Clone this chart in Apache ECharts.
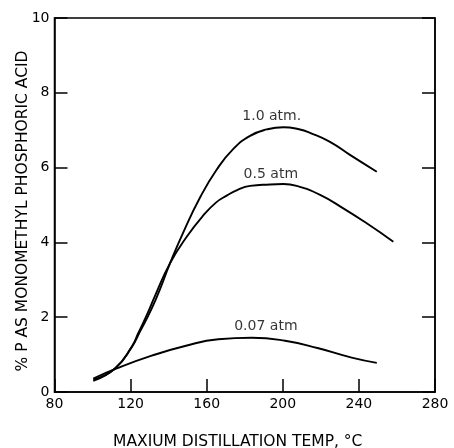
<!DOCTYPE html>
<html><head><meta charset="utf-8">
<script src="https://cdn.jsdelivr.net/npm/echarts@6/dist/echarts.min.js"></script>
<style>html,body{margin:0;padding:0;background:#fff}#c{width:454px;height:448px}</style>
</head><body><div id="c"></div>
<script>
const xTicks = [80, 120, 160, 200, 240, 280];
const yTicks = [0, 2, 4, 6, 8, 10];
const atm10 = [[100.4,0.30],[111.8,0.63],[120.6,1.20],[125,1.62],[131,2.22],[136,2.82],[140.7,3.44],[147.7,4.27],[156.5,5.20],[165.3,5.95],[174,6.50],[182.8,6.85],[191.5,7.02],[200.3,7.08],[209,7.02],[214.3,6.93],[224.8,6.69],[235.3,6.34],[249.4,5.89]];
const atm05 = [[100.4,0.33],[111.8,0.63],[120.6,1.21],[124,1.57],[128.9,2.10],[133.4,2.64],[140.7,3.44],[149.5,4.15],[158.2,4.72],[165,5.07],[170.5,5.25],[176,5.40],[182.8,5.51],[193.3,5.55],[200.3,5.56],[207.3,5.51],[219.6,5.27],[231.8,4.91],[244.1,4.51],[258.1,4.02]];
const atm007 = [[100.4,0.36],[112.7,0.63],[131.1,0.97],[148.6,1.23],[166.1,1.41],[183.7,1.45],[201.2,1.37],[218.7,1.17],[236.2,0.92],[249.4,0.78]];
const labels = [{name:'1.0 atm.', x:194.2, y:7.36},{name:'0.5 atm', x:193.7, y:5.83},{name:'0.07 atm', x:191.1, y:1.75}];

const font = 'DejaVu Sans';
const lineSeries = (d) => ({type:'line', data:d, smooth:0.5, symbol:'none', lineStyle:{color:'#000', width:1.9}, silent:true});
const chart = echarts.init(document.getElementById('c'));
chart.setOption({
  animation:false,
  grid:{left:54.5, right:19, top:18, bottom:56, show:true, borderColor:'#000', borderWidth:1.5, containLabel:false, outerBoundsMode:'none'},
  xAxis:{type:'value', min:80, max:280, interval:40,
    name:'MAXIUM DISTILLATION TEMP, °C', nameLocation:'middle', nameGap:42,
    nameTextStyle:{fontFamily:font, fontSize:15.5, color:'#000', padding:[0,14,0,0]},
    axisLine:{lineStyle:{color:'#000', width:1.5}},
    axisTick:{inside:true, length:13, lineStyle:{color:'#000', width:1.5}},
    axisLabel:{fontFamily:font, fontSize:14, color:'#000', margin:5,
      formatter:v => xTicks.includes(v) ? String(v) : ''},
    splitLine:{show:false}},
  yAxis:[{type:'value', min:0, max:10, interval:2,
    name:'% P AS MONOMETHYL PHOSPHORIC ACID', nameLocation:'middle', nameGap:24, nameMoveOverlap:false,
    nameTextStyle:{fontFamily:font, fontSize:15.5, color:'#000', padding:[0,12,0,0]},
    axisLine:{lineStyle:{color:'#000', width:1.5}},
    axisTick:{inside:true, length:13, lineStyle:{color:'#000', width:1.5}},
    axisLabel:{fontFamily:font, fontSize:14, color:'#000', margin:5,
      formatter:v => yTicks.includes(v) ? String(v) : ''},
    splitLine:{show:false}},
   {type:'value', min:0, max:10, interval:2, position:'right',
    axisLine:{show:true, lineStyle:{color:'#000', width:1.5}},
    axisTick:{show:true, inside:true, length:13, lineStyle:{color:'#000', width:1.5}},
    axisLabel:{show:false}, splitLine:{show:false}}],
  series:[
    lineSeries(atm10), lineSeries(atm05), lineSeries(atm007),
    {type:'scatter', symbolSize:0, silent:true, itemStyle:{color:'#000'},
     data:labels.map(l => ({value:[l.x, l.y], name:l.name})),
     label:{show:true, position:[0,0], align:'center', verticalAlign:'middle', formatter:p => p.name,
       fontFamily:font, fontSize:14, color:'#000', textBorderWidth:0}}
  ]
});
</script></body></html>
